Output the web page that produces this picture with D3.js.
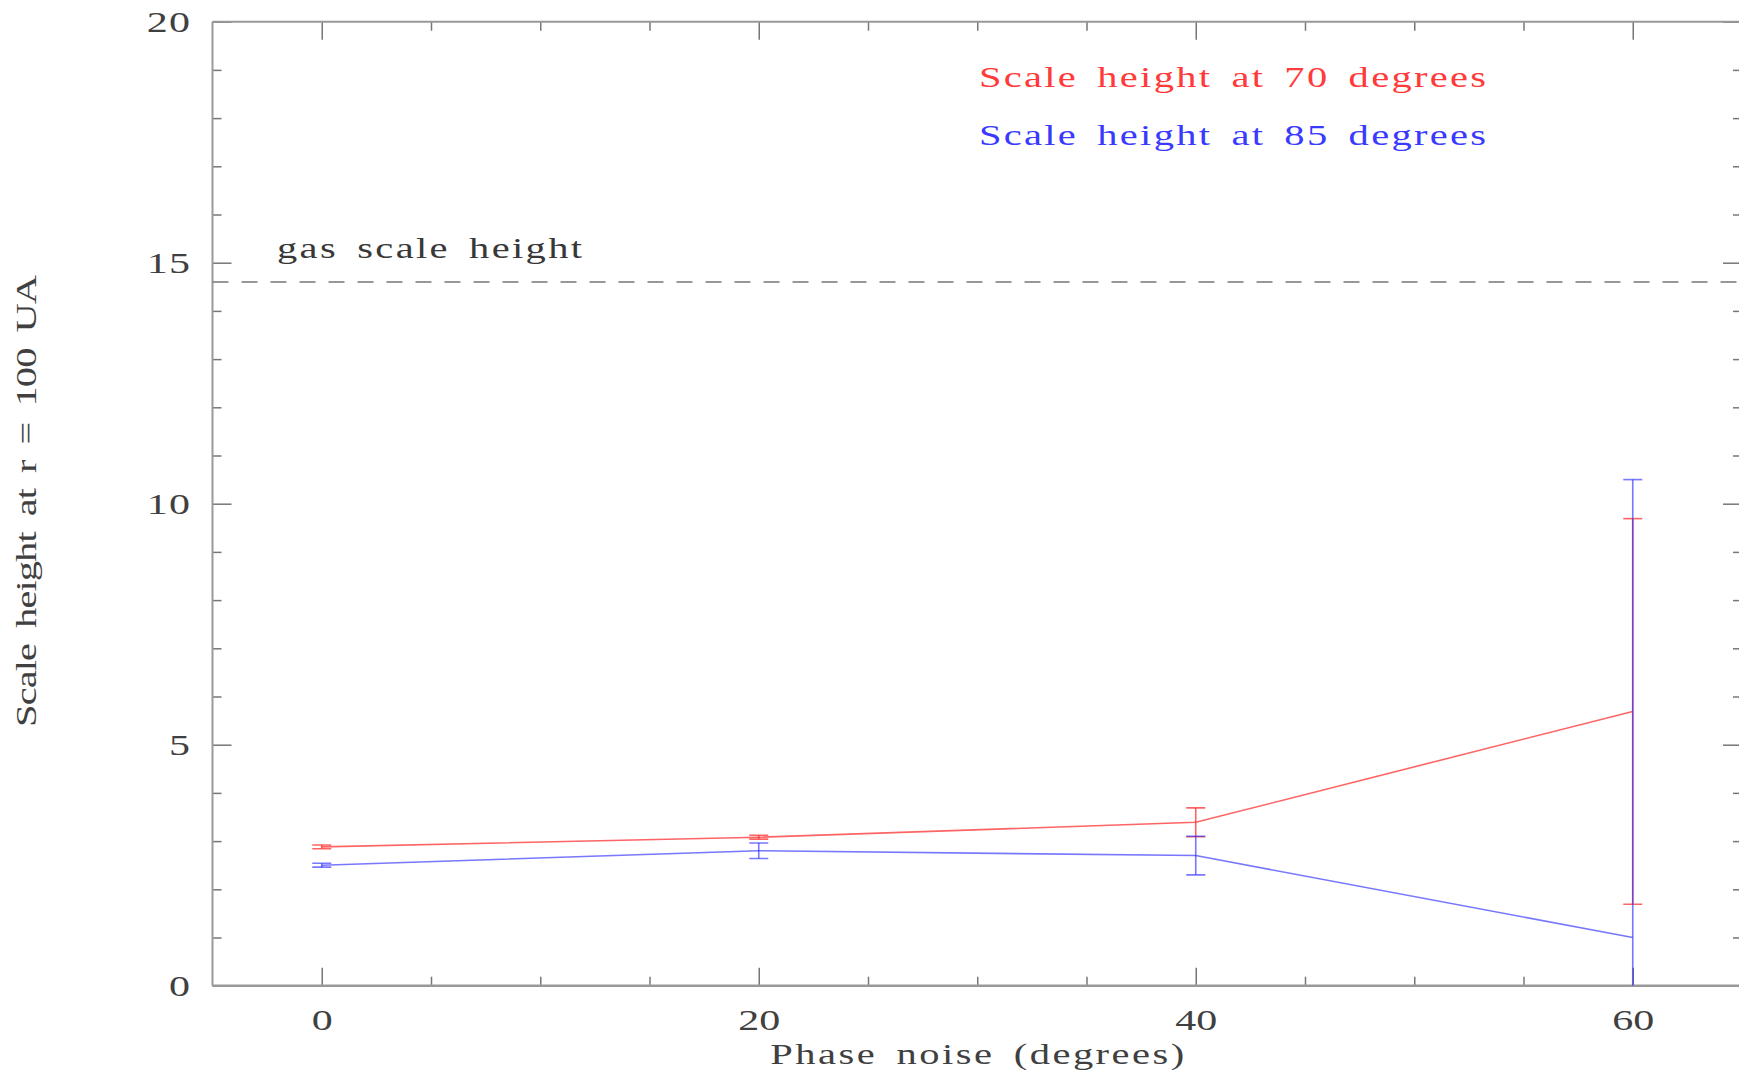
<!DOCTYPE html>
<html>
<head>
<meta charset="utf-8">
<script src="https://cdn.jsdelivr.net/npm/d3@7"></script>
<style>
  html, body { margin: 0; padding: 0; background: #fff; }
  svg { display: block; }
  text { font-family: "Liberation Serif", "Times New Roman", serif; }
</style>
</head>
<body>
<svg id="chart" width="1739" height="1073"></svg>
<script>
// Scale height at r = 100 UA versus phase noise, for two inclinations
const phaseNoise = [0, 20, 40, 60];
const height70 = [2.88, 3.08, 3.39, 5.69];
const height70Err = [0.04, 0.04, 0.30, 4.00];
const height85 = [2.50, 2.80, 2.70, 1.00];
const height85Err = [0.04, 0.16, 0.40, 9.50];
const gasScaleHeight = 14.6;

const xMajorTicks = [0, 20, 40, 60];
const xMinorTicks = [5, 10, 15, 25, 30, 35, 45, 50, 55];
const yMajorTicks = [0, 5, 10, 15, 20];
const yMinorTicks = [1, 2, 3, 4, 6, 7, 8, 9, 11, 12, 13, 14, 16, 17, 18, 19];

const legendLabels = ["Scale height at 70 degrees", "Scale height at 85 degrees"];
const gasLabel = "gas scale height";
const xTitle = "Phase noise (degrees)";
const yTitle = "Scale height at r = 100 UA";

// ---- layout & styling ----
const W = 1739, H = 1073;
const plot = { left: 212.5, right: 1742, top: 21.7, bottom: 985.7 };
const stretch = 1.35;         // widen the glyphs horizontally
const tickStretch = 1.4;
const fontSize = 30;
const RED = "#ff3030", BLUE = "#3030ff";
const majorLen = 18, minorLen = 9;

const svg = d3.select("#chart");

const x = d3.scaleLinear().domain([-5, 65]).range([plot.left, plot.right]);
const y = d3.scaleLinear().domain([0, 20]).range([plot.bottom, plot.top]);

function styleTicks(g) {
  g.select(".domain").remove();
  g.selectAll(".tick line").attr("stroke", "#777").attr("stroke-width", 1.5);
}

// minor and major ticks on all four sides, pointing inward
function addAxis(axisFn, scale, values, len, transform, labels) {
  const ax = axisFn(scale).tickValues(values).tickSizeInner(-len).tickSizeOuter(0);
  if (!labels) ax.tickFormat("");
  return svg.append("g").attr("transform", transform).call(ax).call(styleTicks);
}

addAxis(d3.axisBottom, x, xMinorTicks, minorLen, `translate(0,${plot.bottom})`, false);
addAxis(d3.axisTop, x, xMinorTicks, minorLen, `translate(0,${plot.top})`, false);
addAxis(d3.axisTop, x, xMajorTicks, majorLen, `translate(0,${plot.top})`, false);
addAxis(d3.axisLeft, y, yMinorTicks, minorLen, `translate(${plot.left},0)`, false);
addAxis(d3.axisRight, y, yMinorTicks, minorLen, `translate(${plot.right},0)`, false);
addAxis(d3.axisRight, y, yMajorTicks, majorLen + 1, `translate(${plot.right},0)`, false);

const xAxis = addAxis(d3.axisBottom, x, xMajorTicks, majorLen, `translate(0,${plot.bottom})`, true);
xAxis.selectAll(".tick text")
  .attr("y", null).attr("dy", null)
  .attr("transform", `translate(0,${1030 - plot.bottom}) scale(${tickStretch},1)`)
  .attr("text-anchor", "middle")
  .attr("font-size", fontSize)
  .attr("font-family", "Liberation Serif, serif")
  .attr("fill", "#404040");

const yAxis = addAxis(d3.axisLeft, y, yMajorTicks, majorLen + 1, `translate(${plot.left},0)`, true);
yAxis.selectAll(".tick text")
  .attr("x", null).attr("dy", null)
  .attr("transform", `translate(${191 - plot.left},10) scale(${tickStretch},1)`)
  .attr("text-anchor", "end")
  .attr("letter-spacing", 0.8)
  .attr("font-size", fontSize)
  .attr("font-family", "Liberation Serif, serif")
  .attr("fill", "#404040");

// frame
const frame = svg.append("g").attr("fill", "none").attr("stroke", "#999");
frame.append("line").attr("x1", plot.left).attr("x2", plot.right).attr("y1", plot.top).attr("y2", plot.top).attr("stroke-width", 2);
frame.append("line").attr("x1", plot.left).attr("x2", plot.right).attr("y1", plot.bottom).attr("y2", plot.bottom).attr("stroke-width", 2.6);
frame.append("line").attr("x1", plot.left).attr("x2", plot.left).attr("y1", plot.top).attr("y2", plot.bottom).attr("stroke-width", 2);
frame.append("line").attr("x1", plot.right).attr("x2", plot.right).attr("y1", plot.top).attr("y2", plot.bottom).attr("stroke-width", 2);

// stretched text helper; wider word gaps give an evenly spaced look
function label(txt, px, py, width, anchor, color, rotate) {
  const g = svg.append("g")
    .attr("transform", `translate(${px},${py})${rotate ? " rotate(-90)" : ""} scale(${stretch},1)`);
  g.append("text")
    .attr("text-anchor", anchor)
    .attr("font-size", fontSize)
    .attr("fill", color)
    .attr("word-spacing", 5)
    .attr("textLength", width / stretch)
    .attr("lengthAdjust", "spacing")
    .text(txt);
}

label(xTitle, (plot.left + plot.right) / 2, 1064, 414, "middle", "#404040");
label(yTitle, 36, 501, 452, "middle", "#404040", true);

// gas scale height reference line
svg.append("line")
  .attr("x1", plot.left).attr("x2", plot.right)
  .attr("y1", y(gasScaleHeight)).attr("y2", y(gasScaleHeight))
  .attr("stroke", "#777").attr("stroke-width", 1.5)
  .attr("stroke-dasharray", "16,13");
label(gasLabel, 277, 258, 305, "start", "#383838");

// data
svg.append("defs").append("clipPath").attr("id", "plotClip")
  .append("rect").attr("x", plot.left).attr("y", plot.top)
  .attr("width", plot.right - plot.left).attr("height", plot.bottom - plot.top);
const data = svg.append("g").attr("clip-path", "url(#plotClip)");

const line = d3.line().x((d, i) => x(phaseNoise[i])).y(d => y(d));
const capHalf = 9.5;

function drawSeries(values, errs, color, opacity) {
  const g = data.append("g").attr("stroke", color).attr("stroke-opacity", opacity)
    .attr("stroke-width", 1.6).attr("fill", "none");
  g.append("path").attr("d", line(values));
  values.forEach((v, i) => {
    const cx = x(phaseNoise[i]);
    const lo = y(v - errs[i]), hi = y(v + errs[i]);
    g.append("line").attr("x1", cx).attr("x2", cx).attr("y1", lo).attr("y2", hi);
    g.append("line").attr("x1", cx - capHalf).attr("x2", cx + capHalf).attr("y1", lo).attr("y2", lo);
    g.append("line").attr("x1", cx - capHalf).attr("x2", cx + capHalf).attr("y1", hi).attr("y2", hi);
  });
}

drawSeries(height70, height70Err, RED, 0.75);
drawSeries(height85, height85Err, BLUE, 0.65);

// legend
label(legendLabels[0], 979, 87, 507, "start", "#ff3a3a");
label(legendLabels[1], 979, 145, 507, "start", "#3a3aff");
</script>
</body>
</html>
